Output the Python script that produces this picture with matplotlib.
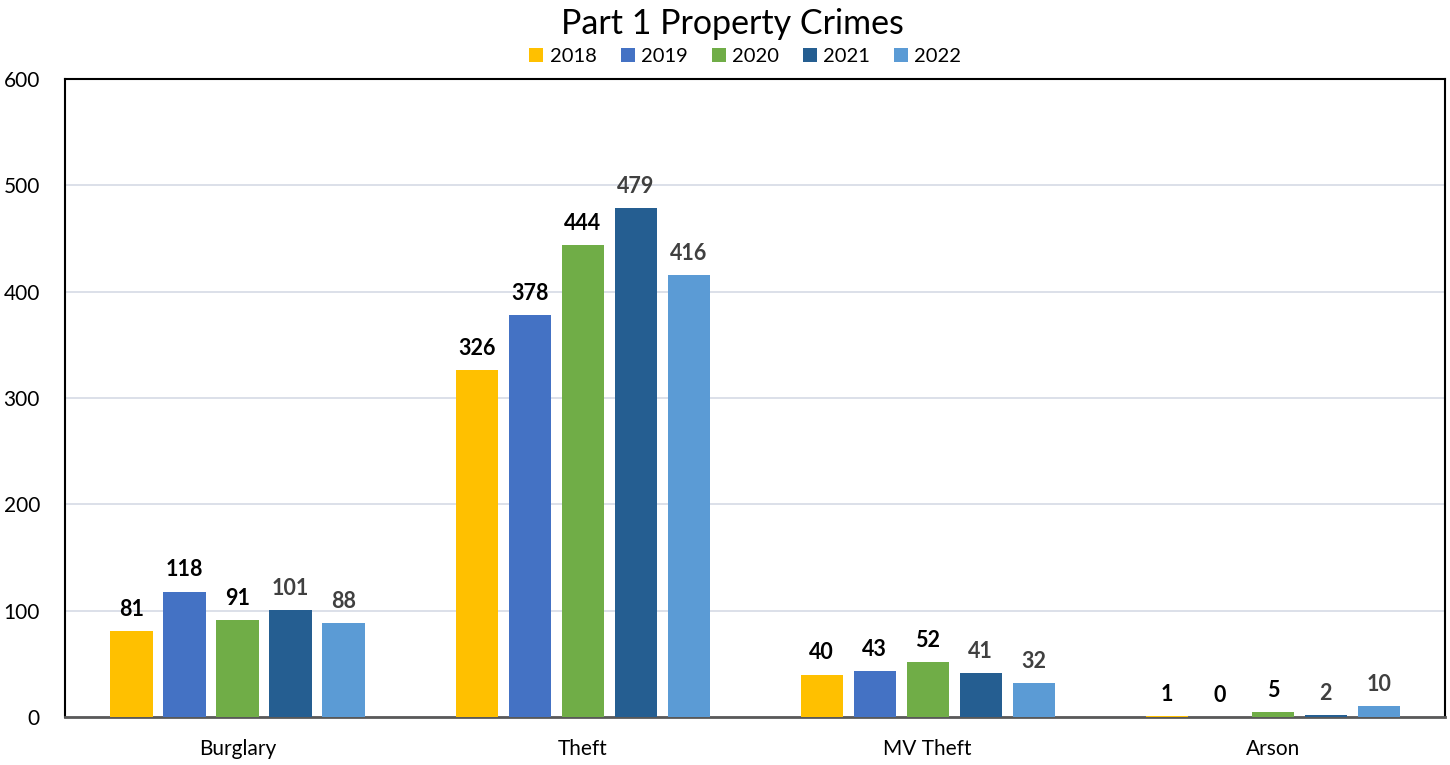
import numpy as np
import matplotlib.pyplot as plt

plt.rcParams['font.family'] = ['Lato', 'DejaVu Sans']

categories = ['Burglary', 'Theft', 'MV Theft', 'Arson']
years = ['2018', '2019', '2020', '2021', '2022']
counts = {
    '2018': [81, 326, 40, 1],
    '2019': [118, 378, 43, 0],
    '2020': [91, 444, 52, 5],
    '2021': [101, 479, 41, 2],
    '2022': [88, 416, 32, 10],
}
colors = ['#FFC000', '#4472C4', '#70AD47', '#255E91', '#5B9BD5']
label_colors = ['black', 'black', 'black', '#404040', '#404040']

fig = plt.figure(figsize=(14.5, 7.65), dpi=100)
ax = fig.add_axes([0.0448, 0.0627, 0.952, 0.834])

x = np.arange(len(categories))
pitch = 0.1536
width = 0.122
for i, yr in enumerate(years):
    pos = x + (i - 2) * pitch
    bars = ax.bar(pos, counts[yr], width=width, color=colors[i], label=yr, zorder=3)
    for b, v in zip(bars, counts[yr]):
        ax.annotate(str(v), (b.get_x() + b.get_width() / 2, v),
                    xytext=(0, 8), textcoords='offset points',
                    ha='center', va='bottom', fontsize=15.5, fontweight='bold',
                    color=label_colors[i])

ax.set_xlim(-0.5, 3.5)
ax.set_ylim(0, 600)
ax.set_yticks(range(0, 601, 100))
ax.set_xticks(x)
ax.set_xticklabels(categories)
ax.tick_params(axis='both', length=0, labelsize=15)
ax.tick_params(axis='x', pad=16)
ax.tick_params(axis='y', pad=18)
ax.grid(axis='y', color='#D5DAE5', linewidth=1.2, zorder=0)
for s in ax.spines.values():
    s.set_color('black')
    s.set_linewidth(1.5)
ax.spines['bottom'].set_color('#595959')
ax.spines['bottom'].set_linewidth(2)

fig.suptitle('Part 1 Property Crimes', x=0.505, y=0.99, fontsize=24.5)
fig.legend(loc='upper center', bbox_to_anchor=(0.514, 0.948), ncol=5, frameon=False,
           fontsize=14.5, handlelength=0.7, handleheight=0.7, handletextpad=0.3,
           columnspacing=1.2, borderaxespad=0)

fig.savefig('out.png', dpi=100)
